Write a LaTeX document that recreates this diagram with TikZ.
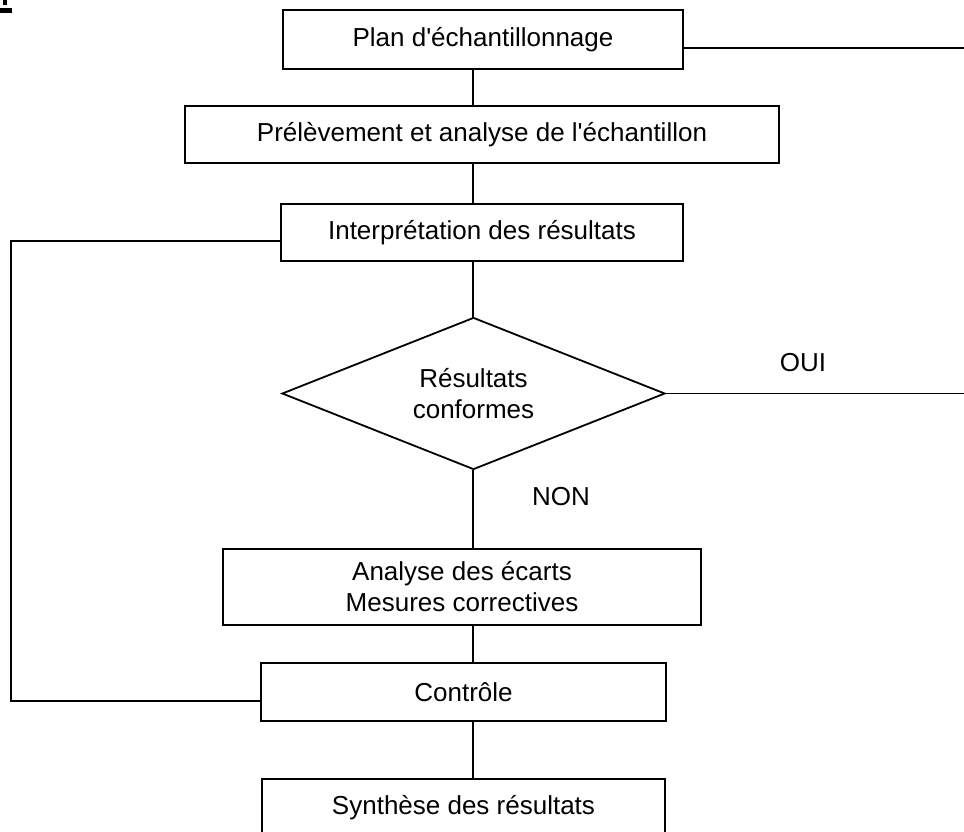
\documentclass[tikz,border=0pt]{standalone}
\usepackage{fontspec}
\setmainfont{Liberation Sans}
\usetikzlibrary{shapes.geometric}
\tikzstyle{flow chart}=[
    x=1pt, y=-1pt,
    every node/.style={font={\fontsize{26}{31}\selectfont}, inner sep=0pt},
    box/.style={rectangle, draw, line width=1.8pt, align=center},
    test/.style={diamond, draw, line width=1.8pt, align=center, inner sep=-5pt, minimum width=383pt, minimum height=152pt},
    link/.style={line width=1.8pt, line cap=rect},
    answer/.style={anchor=center}
]
\newcommand{\step}[5]{
    \node[box, minimum width=#3pt, minimum height=#4pt] (#1) at (#2) {#5};
}
\begin{document}
\begin{tikzpicture}[flow chart]
    \clip (0,0) rectangle (964,831);
    \fill (3,0) rectangle (7,5);
    \fill (0,8) rectangle (12,13);

    \step{plan}{483,39.5}{400}{59}{Plan d\textquotesingle échantillonnage}
    \step{prel}{482,134.5}{594}{57}{Prélèvement et analyse de l\textquotesingle échantillon}
    \step{interp}{482,232.5}{402}{57}{Interprétation des résultats}
    \node[test] (res) at (473.5,393.5) {Résultats\\conformes};
    \step{analyse}{462,587}{478}{76}{Analyse des écarts\\Mesures correctives}
    \step{controle}{463.5,692}{405}{58}{Contrôle}
    \step{synth}{463.5,808}{403}{58}{Synthèse des résultats}

    \coordinate (spine) at (473,0);
    \coordinate (plan out) at (964,48);
    \coordinate (oui out) at (964,393.5);
    \coordinate (loop top) at (11,241);
    \coordinate (loop bottom) at (11,701);

    \foreach \a/\b in {plan/prel, prel/interp, interp/res, res/analyse, analyse/controle, controle/synth}
        \draw[link] (\a.south -| spine) -- (\b.north -| spine);
    \draw[link] (plan.east |- plan out) -- (plan out);
    \draw[link] (res.east) -- (res.east -| oui out);
    \draw[link] (interp.west |- loop top) -- (loop top) -- (loop bottom) -- (controle.west |- loop bottom);

    \node[answer] (oui) at (803,363) {OUI};
    \node[answer] (non) at (561,497) {NON};
\end{tikzpicture}
\end{document}
